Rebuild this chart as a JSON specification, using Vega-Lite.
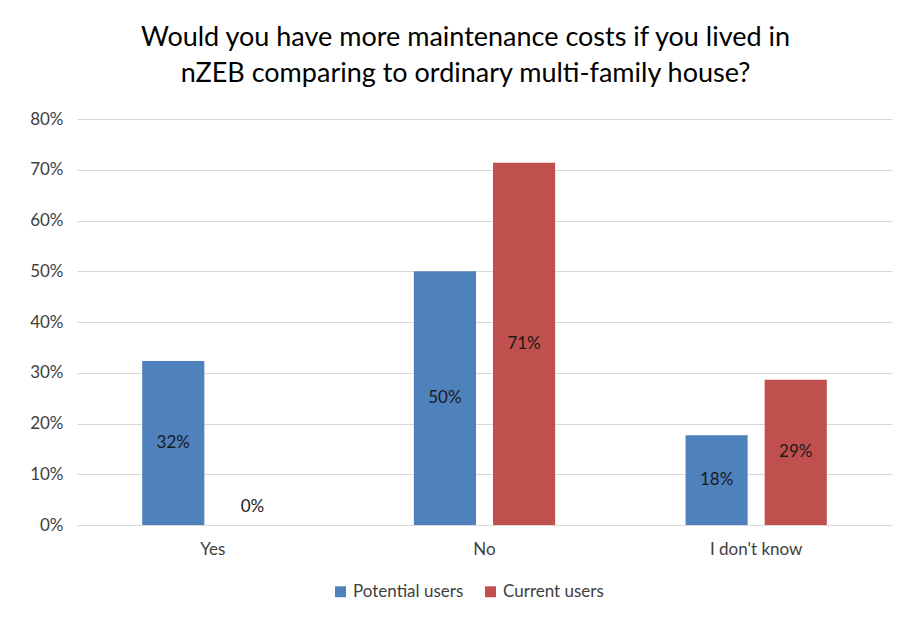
{
  "$schema": "https://vega.github.io/schema/vega-lite/v6.json",
  "width": 815,
  "height": 406,
  "autosize": {"type": "none"},
  "padding": {"left": 77, "top": 119, "right": 5, "bottom": 93},
  "background": "white",
  "config": {
    "view": {"stroke": null},
    "axisY": {
      "title": null,
      "format": ".0%",
      "values": [0, 0.1, 0.2, 0.3, 0.4, 0.5, 0.6, 0.7, 0.8],
      "grid": true,
      "gridColor": "#d9d9d9",
      "gridWidth": 1,
      "domain": false,
      "ticks": false,
      "labelFont": "Lato",
      "labelFontSize": 17,
      "labelColor": "#404040",
      "labelPadding": 14
    }
  },
  "title": {
    "text": ["Would you have more maintenance costs if you lived in", "nZEB comparing to ordinary multi-family house?"],
    "font": "Lato",
    "fontSize": 27,
    "fontWeight": "normal",
    "color": "#000000",
    "lineHeight": 36,
    "anchor": "middle",
    "dx": -19,
    "offset": 22
  },
  "data": {
    "values": [
      {"answer": "Yes", "group": "Potential users", "value": 0.323},
      {"answer": "Yes", "group": "Current users", "value": 0.0},
      {"answer": "No", "group": "Potential users", "value": 0.50},
      {"answer": "No", "group": "Current users", "value": 0.714},
      {"answer": "I don't know", "group": "Potential users", "value": 0.177},
      {"answer": "I don't know", "group": "Current users", "value": 0.286}
    ]
  },
  "encoding": {
    "x": {
      "field": "answer",
      "type": "nominal",
      "sort": ["Yes", "No", "I don't know"],
      "scale": {"paddingInner": 0.48, "paddingOuter": 0.24},
      "axis": {
        "title": null,
        "labelAngle": 0,
        "ticks": false,
        "domain": false,
        "labelFont": "Lato",
        "labelFontSize": 17,
        "labelColor": "#404040",
        "labelPadding": 16
      }
    },
    "xOffset": {
      "field": "group",
      "type": "nominal",
      "sort": ["Potential users", "Current users"],
      "scale": {"paddingInner": 0.215, "paddingOuter": 0}
    }
  },
  "layer": [
    {
      "mark": {"type": "bar"},
      "encoding": {
        "y": {
          "field": "value",
          "type": "quantitative",
          "title": null,
          "scale": {"domain": [0, 0.8]}
        },
        "color": {
          "field": "group",
          "type": "nominal",
          "sort": ["Potential users", "Current users"],
          "scale": {"domain": ["Potential users", "Current users"], "range": ["#4F81BD", "#C0504D"]},
          "legend": {
            "title": null,
            "orient": "none",
            "legendX": 255,
            "legendY": 464,
            "direction": "horizontal",
            "symbolType": "square",
            "symbolSize": 120,
            "symbolStrokeWidth": 0,
            "labelFont": "Lato",
            "labelFontSize": 17,
            "labelColor": "#404040",
            "columnPadding": 18,
            "labelOffset": 4
          }
        }
      }
    },
    {
      "transform": [{"calculate": "max(datum.value / 2, 0.036)", "as": "mid"}],
      "mark": {"type": "text", "font": "Lato", "fontSize": 17, "color": "#1a1a1a", "baseline": "middle"},
      "encoding": {
        "y": {"field": "mid", "type": "quantitative", "title": null},
        "text": {"field": "value", "type": "quantitative", "format": ".0%"}
      }
    }
  ]
}
